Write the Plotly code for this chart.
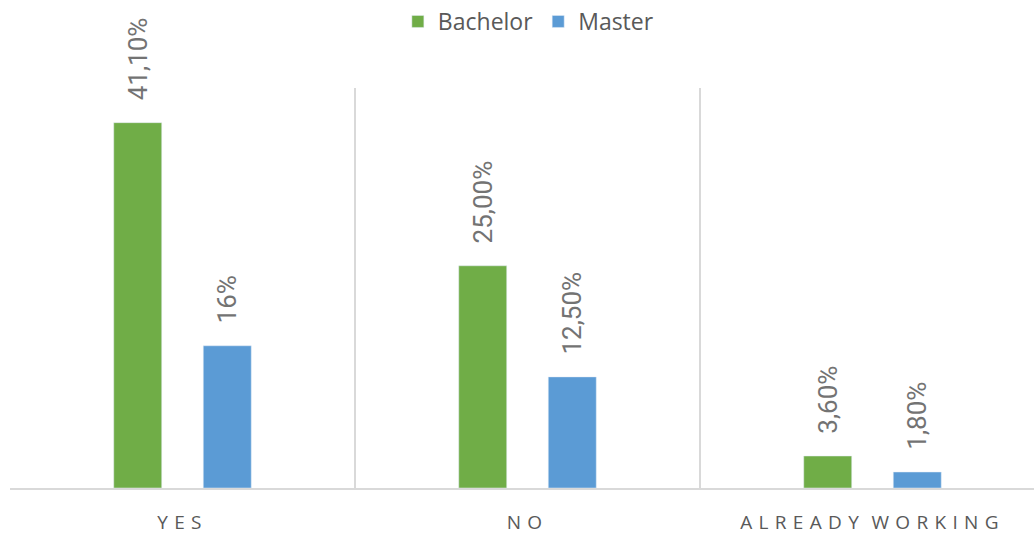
import plotly.graph_objects as go

categories = ["YES", "NO", "ALREADY WORKING"]
LS = "\u2004"   # letter spacing
WS = "\u2002\u2009"   # word spacing
tick_labels = [LS.join("YES") + LS, LS.join("NO") + LS,
               WS.join(LS.join(w) for w in "ALREADY WORKING".split()) + LS]
bachelor = [41.1, 25.0, 3.6]
master = [16.0, 12.5, 1.8]
bachelor_labels = ["41,10%", "25,00%", "3,60%"]
master_labels = ["16%", "12,50%", "1,80%"]

GREEN = "#70AD47"
BLUE = "#5B9BD5"
TEXT = "#595959"
LABEL_TEXT = "#737373"
GRID = "#D9D9D9"
FONT = "Open Sans, Liberation Sans, sans-serif"
LABEL_FONT = "Roboto, Liberation Sans, sans-serif"
pad = "\u00a0" * 3

fig = go.Figure()
for name, vals, labels, color in [("Bachelor", bachelor, bachelor_labels, GREEN),
                                  ("Master", master, master_labels, BLUE)]:
    fig.add_trace(go.Bar(
        name=name, x=categories, y=vals, marker_color=color,
        text=[pad + t for t in labels], textposition="outside", textangle=-90,
        textfont=dict(color=LABEL_TEXT, size=26, family=LABEL_FONT), cliponaxis=False,
        constraintext="none",
    ))

fig.update_layout(
    width=1034, height=534,
    margin=dict(l=10, r=0, t=88, b=46),
    paper_bgcolor="white", plot_bgcolor="white",
    barmode="group", bargap=0.481, bargroupgap=0.464,
    font=dict(family=FONT, color=TEXT),
    showlegend=True,
    legend=dict(orientation="h", xref="container", yref="container", x=0.511, xanchor="center",
                y=1.0, yanchor="top", font=dict(size=23, color=TEXT, family=FONT),
                itemwidth=30, tracegroupgap=0),
)
fig.update_xaxes(
    type="category", range=[-0.5, -0.5 + 1024 / 345],
    tickmode="array", tickvals=categories, ticktext=tick_labels,
    tickson="boundaries", showgrid=True, gridcolor=GRID, gridwidth=2,
    showline=True, linecolor=GRID, linewidth=2, ticks="", ticklabelstandoff=16,
    tickfont=dict(size=19, color=TEXT, family=FONT), fixedrange=True,
)
fig.update_yaxes(range=[0, 45], visible=False, showgrid=False, zeroline=False)

fig.write_html("out.html")
